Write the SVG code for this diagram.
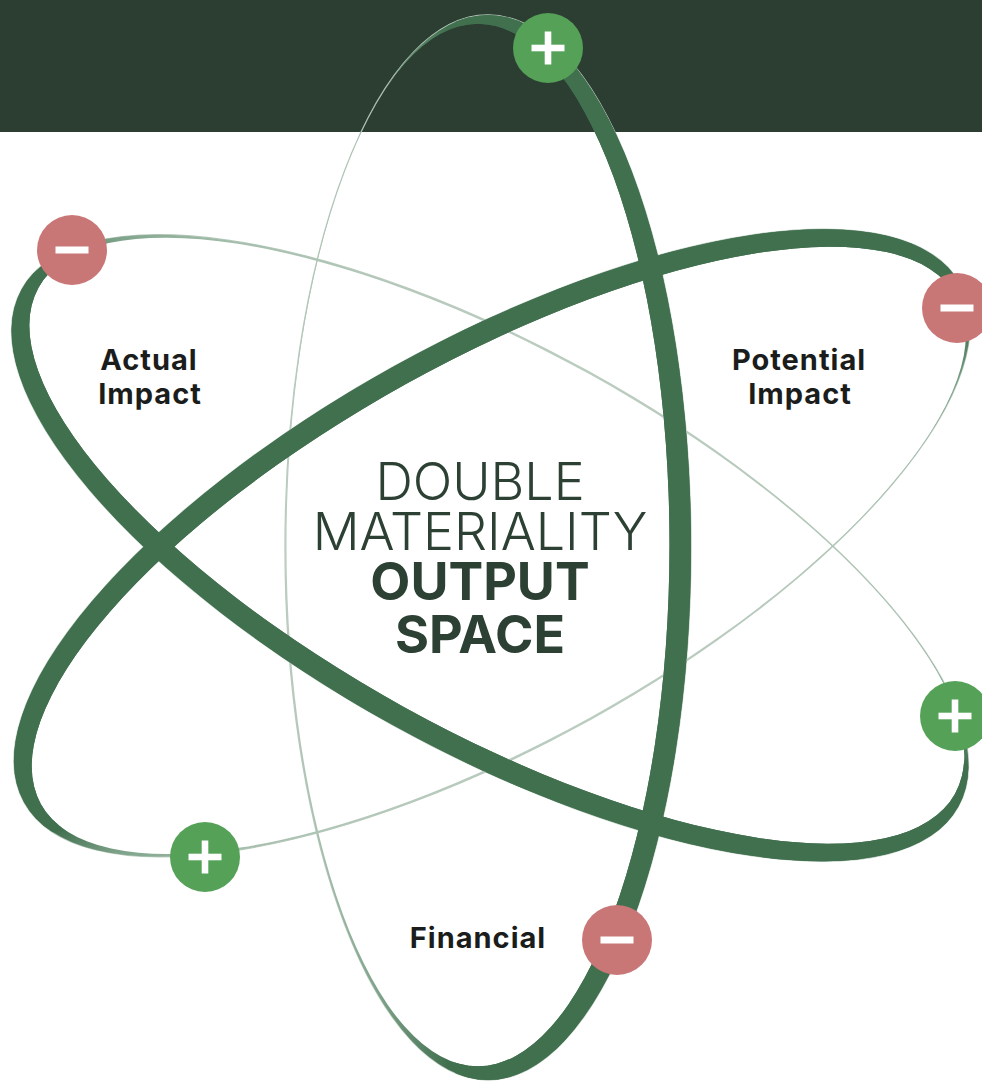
<svg xmlns="http://www.w3.org/2000/svg" width="982" height="1081" viewBox="0 0 982 1081">
<defs>
<style>
.lbl{font-family:Inter,"Liberation Sans",sans-serif;font-weight:700;font-size:29px;letter-spacing:1px;fill:#1b1d1c;text-anchor:middle}
.big{font-family:Inter,"Liberation Sans",sans-serif;font-size:52px;fill:#2c4034;text-anchor:middle}
.light{font-weight:300}
.bold{font-weight:700}
.dark{fill:#41704f}
.base{fill:none;stroke:#b8cabd;stroke-width:1.3}
.plus{fill:#54a157}
.minus{fill:#c87676}
.sym{fill:#ffffff}
</style>
<linearGradient id="gTilt" gradientUnits="userSpaceOnUse" x1="0" y1="-205" x2="0" y2="205">
<stop offset="0" stop-color="#bccdc1"/>
<stop offset="0.15" stop-color="#a4bdab"/>
<stop offset="0.28" stop-color="#7ea38a"/>
<stop offset="0.40" stop-color="#41704f"/>
<stop offset="1" stop-color="#41704f"/>
</linearGradient>
<linearGradient id="gVert" gradientUnits="userSpaceOnUse" x1="285" y1="547" x2="691" y2="547">
<stop offset="0" stop-color="#bccdc1"/>
<stop offset="0.09" stop-color="#a4bdab"/>
<stop offset="0.23" stop-color="#7ea38a"/>
<stop offset="0.40" stop-color="#41704f"/>
<stop offset="1" stop-color="#41704f"/>
</linearGradient>
<clipPath id="cTilt" clipPathUnits="userSpaceOnUse"><rect x="-600" y="-40" width="1200" height="300"/></clipPath>
<clipPath id="cVert" clipPathUnits="userSpaceOnUse"><rect x="455" y="0" width="300" height="1081"/></clipPath>
<path id="ringTilt" fill-rule="evenodd" d="M -535,0 A 535 202 0 1 0 535,0 A 535 202 0 1 0 -535,0 Z M -521.12,-9.71 A 523.5 190.5 0 1 0 525.88,-9.71 A 523.5 190.5 0 1 0 -521.12,-9.71 Z"/>
<path id="ringVert" fill-rule="evenodd" d="M 285,547.5 A 203 532.5 0 1 0 691,547.5 A 203 532.5 0 1 0 285,547.5 Z M 286.5,545 A 191.5 521 0 1 0 669.5,545 A 191.5 521 0 1 0 286.5,545 Z"/>
<g id="plusSym"><rect class="sym" x="-16.5" y="-3.3" width="33" height="6.6"/><rect class="sym" x="-3.3" y="-16.5" width="6.6" height="33"/></g>
<rect id="minusSym" class="sym" x="-16.5" y="-3.5" width="33" height="7"/>
</defs>

<g id="header">
<rect x="0" y="0" width="982" height="132" fill="#2c3d32"/>
</g>

<g id="orbits">
<g id="orbit-base">
<ellipse class="base" cx="488" cy="547.5" rx="203" ry="532.5"/>
<ellipse class="base" cx="0" cy="0" rx="535" ry="202" transform="translate(490,548) rotate(28.9)"/>
<ellipse class="base" cx="0" cy="0" rx="535" ry="202" transform="translate(492,543) rotate(-29)"/>
</g>
<g id="orbit-rings">
<use href="#ringVert" fill="url(#gVert)"/>
<g transform="translate(490,548) rotate(28.9)"><use href="#ringTilt" fill="url(#gTilt)"/></g>
<g transform="translate(492,543) rotate(-29) scale(1,-1)"><use href="#ringTilt" fill="url(#gTilt)"/></g>
</g>
<g id="orbit-thick">
<use href="#ringVert" class="dark" clip-path="url(#cVert)"/>
<g transform="translate(490,548) rotate(28.9)"><use href="#ringTilt" class="dark" clip-path="url(#cTilt)"/></g>
<g transform="translate(492,543) rotate(-29) scale(1,-1)"><use href="#ringTilt" class="dark" clip-path="url(#cTilt)"/></g>
</g>
</g>

<g id="labels">
<text id="label-actual" class="lbl"><tspan x="149" y="370">Actual</tspan><tspan x="150" y="404">Impact</tspan></text>
<text id="label-potential" class="lbl"><tspan x="799" y="370">Potential</tspan><tspan x="800" y="404">Impact</tspan></text>
<text id="label-financial" class="lbl" x="478" y="948">Financial</text>
</g>

<g id="title">
<text class="big"><tspan class="light" x="480" y="500">DOUBLE</tspan><tspan class="light" x="480" y="550">MATERIALITY</tspan><tspan class="bold" x="480" y="600">OUTPUT</tspan><tspan class="bold" x="480" y="653">SPACE</tspan></text>
</g>

<g id="node-top-plus"><circle class="plus" cx="548" cy="48" r="35"/><use href="#plusSym" x="548" y="48"/></g>
<g id="node-left-minus"><circle class="minus" cx="72" cy="250" r="35"/><use href="#minusSym" x="72" y="250"/></g>
<g id="node-right-minus"><circle class="minus" cx="957" cy="308" r="35"/><use href="#minusSym" x="957" y="308"/></g>
<g id="node-right-plus"><circle class="plus" cx="955" cy="716" r="35"/><use href="#plusSym" x="955" y="716"/></g>
<g id="node-bottom-plus"><circle class="plus" cx="205" cy="857" r="35"/><use href="#plusSym" x="205" y="857"/></g>
<g id="node-financial-minus"><circle class="minus" cx="617" cy="940" r="35"/><use href="#minusSym" x="617" y="940"/></g>
</svg>
